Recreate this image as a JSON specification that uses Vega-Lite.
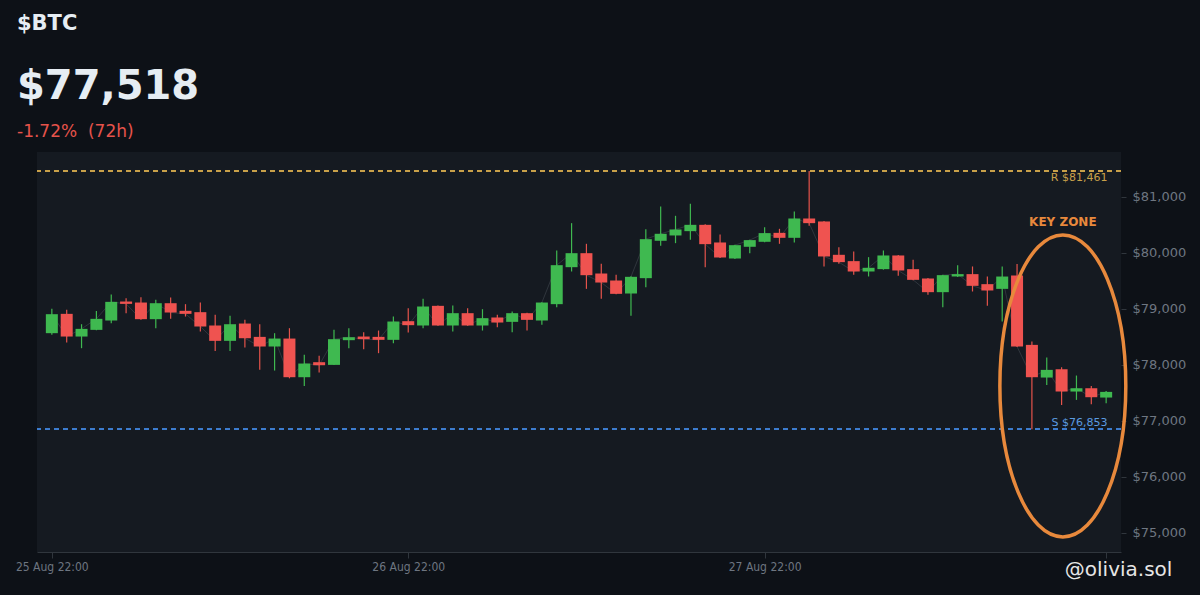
{
  "$schema": "https://vega.github.io/schema/vega-lite/v6.json",
  "width": 1084,
  "height": 400,
  "autosize": {"type": "none"},
  "padding": {"left": 37, "top": 152, "right": 79, "bottom": 43},
  "background": "#0d1117",
  "title": {
    "text": "$BTC",
    "subtitle": "$77,518",
    "anchor": "start",
    "frame": "group",
    "dx": -20,
    "offset": 16,
    "font": "DejaVu Sans",
    "fontSize": 21,
    "fontWeight": "bold",
    "color": "#e6edf3",
    "subtitleFont": "DejaVu Sans",
    "subtitleFontSize": 40,
    "subtitleFontWeight": "bold",
    "subtitleColor": "#e6edf3",
    "subtitlePadding": 33
  },
  "config": {
    "view": {"fill": "#151a21", "stroke": null},
    "axis": {"grid": false, "labelColor": "#6e7681", "tickColor": "#30363d", "domainColor": "#30363d"},
    "axisX": {"labelFont": "DejaVu Sans Condensed, DejaVu Sans", "labelFontSize": 12, "tickSize": 6, "labelPadding": 3},
    "axisY": {"labelFont": "DejaVu Sans", "labelFontSize": 13, "tickSize": 5, "labelPadding": 6, "domain": false}
  },
  "data": {
    "values": [
      {"t": "2025-08-25T22:00", "o": 78566, "h": 79000, "l": 78540, "c": 78905},
      {"t": "2025-08-25T23:00", "o": 78911, "h": 78982, "l": 78399, "c": 78506},
      {"t": "2025-08-26T00:00", "o": 78506, "h": 78726, "l": 78298, "c": 78643},
      {"t": "2025-08-26T01:00", "o": 78625, "h": 78964, "l": 78620, "c": 78822},
      {"t": "2025-08-26T02:00", "o": 78792, "h": 79256, "l": 78744, "c": 79125},
      {"t": "2025-08-26T03:00", "o": 79131, "h": 79191, "l": 78923, "c": 79089},
      {"t": "2025-08-26T04:00", "o": 79113, "h": 79208, "l": 78804, "c": 78816},
      {"t": "2025-08-26T05:00", "o": 78816, "h": 79161, "l": 78655, "c": 79101},
      {"t": "2025-08-26T06:00", "o": 79101, "h": 79203, "l": 78822, "c": 78935},
      {"t": "2025-08-26T07:00", "o": 78965, "h": 79084, "l": 78863, "c": 78911},
      {"t": "2025-08-26T08:00", "o": 78941, "h": 79113, "l": 78595, "c": 78685},
      {"t": "2025-08-26T09:00", "o": 78703, "h": 78893, "l": 78250, "c": 78429},
      {"t": "2025-08-26T10:00", "o": 78429, "h": 78875, "l": 78250, "c": 78726},
      {"t": "2025-08-26T11:00", "o": 78738, "h": 78804, "l": 78310, "c": 78476},
      {"t": "2025-08-26T12:00", "o": 78500, "h": 78726, "l": 77911, "c": 78328},
      {"t": "2025-08-26T13:00", "o": 78328, "h": 78566, "l": 77899, "c": 78470},
      {"t": "2025-08-26T14:00", "o": 78470, "h": 78655, "l": 77760, "c": 77780},
      {"t": "2025-08-26T15:00", "o": 77780, "h": 78179, "l": 77625, "c": 78024},
      {"t": "2025-08-26T16:00", "o": 78048, "h": 78161, "l": 77863, "c": 77994},
      {"t": "2025-08-26T17:00", "o": 78000, "h": 78625, "l": 78000, "c": 78459},
      {"t": "2025-08-26T18:00", "o": 78441, "h": 78655, "l": 78298, "c": 78494},
      {"t": "2025-08-26T19:00", "o": 78506, "h": 78584, "l": 78280, "c": 78459},
      {"t": "2025-08-26T20:00", "o": 78500, "h": 78613, "l": 78209, "c": 78447},
      {"t": "2025-08-26T21:00", "o": 78447, "h": 78863, "l": 78387, "c": 78774},
      {"t": "2025-08-26T22:00", "o": 78780, "h": 79012, "l": 78578, "c": 78709},
      {"t": "2025-08-26T23:00", "o": 78703, "h": 79179, "l": 78655, "c": 79042},
      {"t": "2025-08-27T00:00", "o": 79054, "h": 79060, "l": 78700, "c": 78703},
      {"t": "2025-08-27T01:00", "o": 78703, "h": 79060, "l": 78595, "c": 78923},
      {"t": "2025-08-27T02:00", "o": 78923, "h": 79012, "l": 78700, "c": 78703},
      {"t": "2025-08-27T03:00", "o": 78703, "h": 78994, "l": 78613, "c": 78834},
      {"t": "2025-08-27T04:00", "o": 78846, "h": 78893, "l": 78673, "c": 78756},
      {"t": "2025-08-27T05:00", "o": 78768, "h": 78953, "l": 78584, "c": 78923},
      {"t": "2025-08-27T06:00", "o": 78923, "h": 78930, "l": 78613, "c": 78804},
      {"t": "2025-08-27T07:00", "o": 78792, "h": 79120, "l": 78715, "c": 79113},
      {"t": "2025-08-27T08:00", "o": 79084, "h": 80042, "l": 79030, "c": 79780},
      {"t": "2025-08-27T09:00", "o": 79744, "h": 80530, "l": 79667, "c": 79994},
      {"t": "2025-08-27T10:00", "o": 79994, "h": 80161, "l": 79357, "c": 79601},
      {"t": "2025-08-27T11:00", "o": 79631, "h": 79804, "l": 79179, "c": 79470},
      {"t": "2025-08-27T12:00", "o": 79506, "h": 79607, "l": 79260, "c": 79268},
      {"t": "2025-08-27T13:00", "o": 79274, "h": 79580, "l": 78875, "c": 79572},
      {"t": "2025-08-27T14:00", "o": 79548, "h": 80423, "l": 79387, "c": 80244},
      {"t": "2025-08-27T15:00", "o": 80215, "h": 80828, "l": 80125, "c": 80340},
      {"t": "2025-08-27T16:00", "o": 80310, "h": 80661, "l": 80173, "c": 80417},
      {"t": "2025-08-27T17:00", "o": 80387, "h": 80875, "l": 80232, "c": 80500},
      {"t": "2025-08-27T18:00", "o": 80500, "h": 80510, "l": 79744, "c": 80155},
      {"t": "2025-08-27T19:00", "o": 80185, "h": 80328, "l": 79910, "c": 79917},
      {"t": "2025-08-27T20:00", "o": 79899, "h": 80145, "l": 79890, "c": 80137},
      {"t": "2025-08-27T21:00", "o": 80108, "h": 80235, "l": 79994, "c": 80227},
      {"t": "2025-08-27T22:00", "o": 80197, "h": 80459, "l": 80190, "c": 80352},
      {"t": "2025-08-27T23:00", "o": 80357, "h": 80429, "l": 80161, "c": 80268},
      {"t": "2025-08-28T00:00", "o": 80268, "h": 80738, "l": 80185, "c": 80613},
      {"t": "2025-08-28T01:00", "o": 80613, "h": 81461, "l": 80483, "c": 80530},
      {"t": "2025-08-28T02:00", "o": 80560, "h": 80570, "l": 79756, "c": 79935},
      {"t": "2025-08-28T03:00", "o": 79965, "h": 80101, "l": 79804, "c": 79834},
      {"t": "2025-08-28T04:00", "o": 79852, "h": 80024, "l": 79607, "c": 79667},
      {"t": "2025-08-28T05:00", "o": 79667, "h": 79923, "l": 79578, "c": 79733},
      {"t": "2025-08-28T06:00", "o": 79709, "h": 80042, "l": 79700, "c": 79953},
      {"t": "2025-08-28T07:00", "o": 79953, "h": 79960, "l": 79590, "c": 79685},
      {"t": "2025-08-28T08:00", "o": 79709, "h": 79876, "l": 79510, "c": 79518},
      {"t": "2025-08-28T09:00", "o": 79542, "h": 79550, "l": 79250, "c": 79298},
      {"t": "2025-08-28T10:00", "o": 79298, "h": 79610, "l": 79030, "c": 79602},
      {"t": "2025-08-28T11:00", "o": 79578, "h": 79780, "l": 79570, "c": 79620},
      {"t": "2025-08-28T12:00", "o": 79620, "h": 79757, "l": 79310, "c": 79411},
      {"t": "2025-08-28T13:00", "o": 79441, "h": 79578, "l": 79054, "c": 79328},
      {"t": "2025-08-28T14:00", "o": 79357, "h": 79756, "l": 78774, "c": 79577},
      {"t": "2025-08-28T15:00", "o": 79595, "h": 79800, "l": 78320, "c": 78327},
      {"t": "2025-08-28T16:00", "o": 78357, "h": 78417, "l": 76853, "c": 77780},
      {"t": "2025-08-28T17:00", "o": 77774, "h": 78131, "l": 77643, "c": 77911},
      {"t": "2025-08-28T18:00", "o": 77923, "h": 77958, "l": 77286, "c": 77524},
      {"t": "2025-08-28T19:00", "o": 77524, "h": 77810, "l": 77375, "c": 77583},
      {"t": "2025-08-28T20:00", "o": 77583, "h": 77625, "l": 77298, "c": 77423},
      {"t": "2025-08-28T21:00", "o": 77417, "h": 77536, "l": 77316, "c": 77518}
    ]
  },
  "layer": [
    {
      "mark": {"type": "line", "color": "#8b949e", "opacity": 0.22, "strokeWidth": 1},
      "encoding": {
        "x": {
          "field": "t", "type": "temporal", "title": null,
          "scale": {"domain": [{"year": 2025, "month": 8, "date": 25, "hours": 21}, {"year": 2025, "month": 8, "date": 28, "hours": 22}], "padding": 0},
          "axis": {
            "values": [
              {"year": 2025, "month": 8, "date": 25, "hours": 22},
              {"year": 2025, "month": 8, "date": 26, "hours": 22},
              {"year": 2025, "month": 8, "date": 27, "hours": 22},
              {"year": 2025, "month": 8, "date": 28, "hours": 21}
            ],
            "labelExpr": "hours(datum.value) == 21 ? '' : timeFormat(datum.value, '%d %b %H:%M')"
          }
        },
        "y": {
          "field": "c", "type": "quantitative", "title": null,
          "scale": {"domain": [74660, 81800], "zero": false, "nice": false, "padding": 0},
          "axis": {"orient": "right", "values": [75000, 76000, 77000, 78000, 79000, 80000, 81000], "format": "$,d"}
        }
      }
    },
    {
      "mark": {"type": "rule", "color": "#c9a14a", "strokeDash": [5, 4], "strokeWidth": 1},
      "encoding": {"y": {"datum": 81461}}
    },
    {
      "mark": {"type": "rule", "color": "#3f7fd0", "strokeDash": [5, 4], "strokeWidth": 1},
      "encoding": {"y": {"datum": 76853}}
    },
    {
      "mark": {"type": "rule", "strokeWidth": 1.2},
      "encoding": {
        "x": {"field": "t", "type": "temporal"},
        "y": {"field": "l", "type": "quantitative", "title": null},
        "y2": {"field": "h"},
        "color": {"condition": {"test": "datum.c >= datum.o", "value": "#3fb950"}, "value": "#e5534b"}
      }
    },
    {
      "mark": {"type": "bar", "width": 12},
      "encoding": {
        "x": {"field": "t", "type": "temporal"},
        "y": {"field": "o", "type": "quantitative", "title": null},
        "y2": {"field": "c"},
        "color": {"condition": {"test": "datum.c >= datum.o", "value": "#3fb950"}, "value": "#ef5350"}
      }
    },
    {
      "data": {"values": [{"label": "R $81,461"}]},
      "mark": {"type": "text", "align": "right", "baseline": "top", "dy": 1, "fontSize": 11, "font": "DejaVu Sans", "color": "#c9a14a"},
      "encoding": {
        "text": {"field": "label"},
        "x": {"datum": {"year": 2025, "month": 8, "date": 28, "hours": 21, "minutes": 5}},
        "y": {"datum": 81461}
      }
    },
    {
      "data": {"values": [{"label": "S $76,853"}]},
      "mark": {"type": "text", "align": "right", "baseline": "bottom", "dy": -1, "fontSize": 11, "font": "DejaVu Sans", "color": "#5b9be0"},
      "encoding": {
        "text": {"field": "label"},
        "x": {"datum": {"year": 2025, "month": 8, "date": 28, "hours": 21, "minutes": 5}},
        "y": {"datum": 76853}
      }
    },
    {
      "data": {"values": [{"zone": "KEY ZONE"}]},
      "mark": {
        "type": "point",
        "shape": "M0,-1C0.2303,-1,0.417,-0.5523,0.417,0C0.417,0.5523,0.2303,1,0,1C-0.2303,1,-0.417,0.5523,-0.417,0C-0.417,-0.5523,-0.2303,-1,0,-1Z",
        "size": 91204, "filled": false, "stroke": "#e8893c", "strokeWidth": 3.5, "opacity": 1
      },
      "encoding": {
        "x": {"datum": {"year": 2025, "month": 8, "date": 28, "hours": 18, "minutes": 5}},
        "y": {"datum": 77625}
      }
    },
    {
      "data": {"values": [{"zone": "KEY ZONE"}]},
      "mark": {"type": "text", "align": "center", "baseline": "middle", "fontSize": 12, "fontWeight": "bold", "font": "DejaVu Sans", "color": "#e8893c"},
      "encoding": {
        "text": {"field": "zone"},
        "x": {"datum": {"year": 2025, "month": 8, "date": 28, "hours": 18, "minutes": 5}},
        "y": {"datum": 80554}
      }
    },
    {
      "data": {"values": [{"label": "-1.72%\u00a0 (72h)"}]},
      "mark": {"type": "text", "align": "left", "baseline": "alphabetic", "dx": -20, "fontSize": 17, "font": "DejaVu Sans", "color": "#e5534b"},
      "encoding": {
        "text": {"field": "label"},
        "x": {"datum": {"year": 2025, "month": 8, "date": 25, "hours": 21}},
        "y": {"datum": 82072}
      }
    },
    {
      "data": {"values": [{"label": "@olivia.sol"}]},
      "mark": {"type": "text", "align": "left", "baseline": "alphabetic", "fontSize": 20, "font": "DejaVu Sans", "color": "#e6e6e6"},
      "encoding": {
        "text": {"field": "label"},
        "x": {"datum": {"year": 2025, "month": 8, "date": 28, "hours": 18, "minutes": 13}},
        "y": {"datum": 74230}
      }
    }
  ]
}
